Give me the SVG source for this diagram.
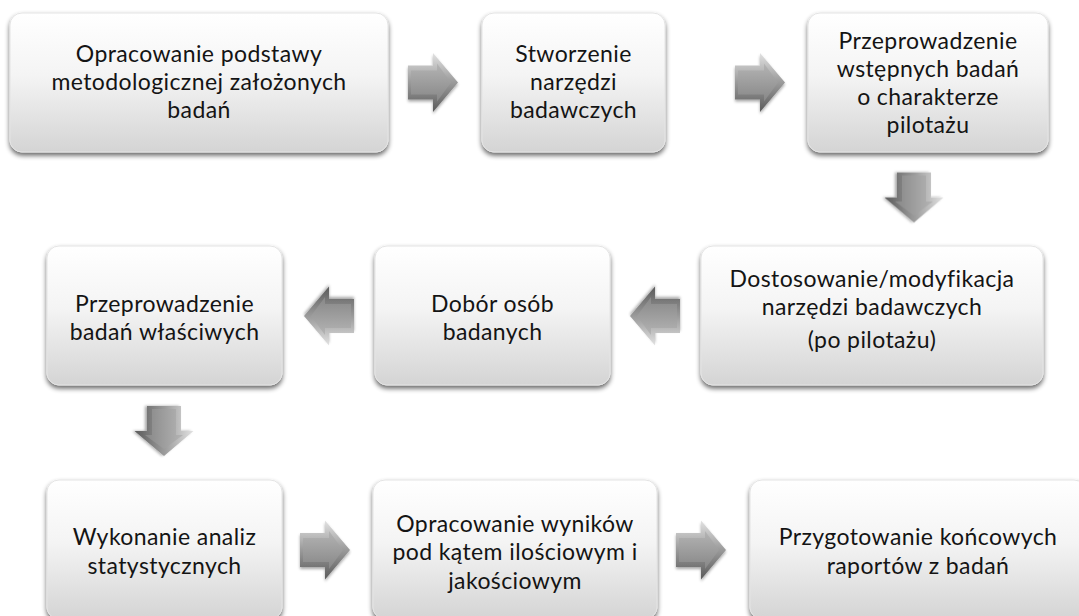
<svg xmlns="http://www.w3.org/2000/svg" xmlns:xlink="http://www.w3.org/1999/xlink" width="1079" height="616" viewBox="0 0 1079 616">
<style>
.box{fill:url(#boxGrad);stroke:#e4e4e4;stroke-width:1;filter:url(#shadow)}
.t{font-family:Lato,"Liberation Sans",sans-serif;font-size:23px;letter-spacing:0.4px;fill:#141414;text-anchor:middle}
</style>
<defs>
<linearGradient id="boxGrad" x1="0" y1="0" x2="0" y2="1">
<stop offset="0" stop-color="#ffffff"/>
<stop offset="0.45" stop-color="#f4f4f4"/>
<stop offset="1" stop-color="#d4d4d4"/>
</linearGradient>
<linearGradient id="arrOuter" x1="0" y1="0" x2="0" y2="1">
<stop offset="0" stop-color="#e2e2e2"/>
<stop offset="0.5" stop-color="#9a9a9a"/>
<stop offset="1" stop-color="#5a5a5a"/>
</linearGradient>
<linearGradient id="arrInner" x1="0" y1="0" x2="0" y2="1">
<stop offset="0" stop-color="#b4b4b4"/>
<stop offset="1" stop-color="#878787"/>
</linearGradient>
<filter id="shadow" x="-10%" y="-10%" width="120%" height="130%">
<feGaussianBlur in="SourceAlpha" stdDeviation="2.5"/>
<feOffset dx="0" dy="3" result="b"/>
<feComponentTransfer><feFuncA type="linear" slope="0.6"/></feComponentTransfer>
<feMerge><feMergeNode/><feMergeNode in="SourceGraphic"/></feMerge>
</filter>
<filter id="ashadow" x="-30%" y="-30%" width="160%" height="160%">
<feGaussianBlur in="SourceAlpha" stdDeviation="1.5"/>
<feOffset dx="0" dy="2"/>
<feComponentTransfer><feFuncA type="linear" slope="0.35"/></feComponentTransfer>
<feMerge><feMergeNode/><feMergeNode in="SourceGraphic"/></feMerge>
</filter>
<g id="arrow" filter="url(#ashadow)">
<path d="M-25,-17 H0 V-29.5 L25,0 L0,29.5 V17 H-25 Z" fill="url(#arrOuter)"/>
<path d="M-22,-12 H4 V-19 L18,0 L4,19 V12 H-22 Z" fill="url(#arrInner)"/>
</g>
</defs>

<g id="connectors">
<use xlink:href="#arrow" transform="translate(433,82.5)"/>
<use xlink:href="#arrow" transform="translate(760,82.5)"/>
<use xlink:href="#arrow" transform="translate(914,197.5) rotate(90)"/>
<use xlink:href="#arrow" transform="translate(655,316) rotate(180)"/>
<use xlink:href="#arrow" transform="translate(329,316) rotate(180)"/>
<use xlink:href="#arrow" transform="translate(164,431) rotate(90)"/>
<use xlink:href="#arrow" transform="translate(325,550)"/>
<use xlink:href="#arrow" transform="translate(701,550)"/>
</g>

<g id="n1">
<rect class="box" x="10" y="13" width="378" height="139" rx="12"/>
<text class="t"><tspan x="199" y="62">Opracowanie podstawy</tspan><tspan x="199" y="90">metodologicznej założonych</tspan><tspan x="199" y="118">badań</tspan></text>
</g>
<g id="n2">
<rect class="box" x="482" y="13" width="183" height="139" rx="12"/>
<text class="t"><tspan x="573.5" y="62">Stworzenie</tspan><tspan x="573.5" y="90">narzędzi</tspan><tspan x="573.5" y="118">badawczych</tspan></text>
</g>
<g id="n3">
<rect class="box" x="808" y="13" width="240" height="139" rx="12"/>
<text class="t"><tspan x="928" y="49">Przeprowadzenie</tspan><tspan x="928" y="77">wstępnych badań</tspan><tspan x="928" y="105">o charakterze</tspan><tspan x="928" y="133">pilotażu</tspan></text>
</g>
<g id="n4">
<rect class="box" x="47" y="246" width="235" height="139" rx="12"/>
<text class="t"><tspan x="164.5" y="312">Przeprowadzenie</tspan><tspan x="164.5" y="340">badań właściwych</tspan></text>
</g>
<g id="n5">
<rect class="box" x="375" y="246" width="235" height="139" rx="12"/>
<text class="t"><tspan x="492.5" y="312">Dobór osób</tspan><tspan x="492.5" y="340">badanych</tspan></text>
</g>
<g id="n6">
<rect class="box" x="701" y="246" width="342" height="139" rx="12"/>
<text class="t"><tspan x="872" y="287">Dostosowanie/modyfikacja</tspan><tspan x="872" y="315">narzędzi badawczych</tspan><tspan x="872" y="348">(po pilotażu)</tspan></text>
</g>
<g id="n7">
<rect class="box" x="47" y="480" width="235" height="139" rx="12"/>
<text class="t"><tspan x="164.5" y="545">Wykonanie analiz</tspan><tspan x="164.5" y="574">statystycznych</tspan></text>
</g>
<g id="n8">
<rect class="box" x="373" y="480" width="284" height="139" rx="12"/>
<text class="t"><tspan x="515" y="532">Opracowanie wyników</tspan><tspan x="515" y="560">pod kątem ilościowym i</tspan><tspan x="515" y="589">jakościowym</tspan></text>
</g>
<g id="n9">
<rect class="box" x="750" y="480" width="336" height="139" rx="12"/>
<text class="t"><tspan x="918" y="545">Przygotowanie końcowych</tspan><tspan x="918" y="574">raportów z badań</tspan></text>
</g>
</svg>
